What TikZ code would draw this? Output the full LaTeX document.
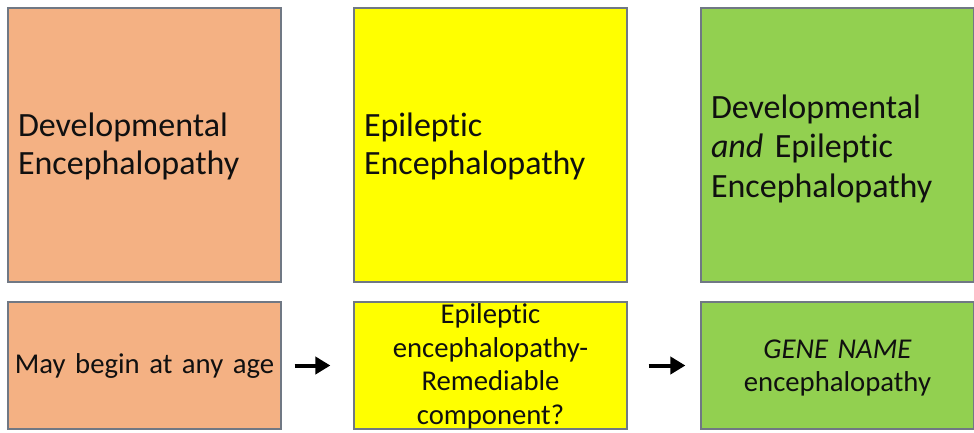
\documentclass[tikz,border=0pt]{standalone}
\usepackage{fontspec}
\setmainfont{Carlito}[Ligatures=NoCommon]
\usetikzlibrary{arrows.meta}
\definecolor{orangebox}{HTML}{F4B183}
\definecolor{yellowbox}{HTML}{FFFF00}
\definecolor{greenbox}{HTML}{92D050}
\definecolor{edgegray}{HTML}{707884}
\definecolor{txt}{HTML}{101010}
\tikzset{
  bigbox/.style={draw=edgegray, line width=1.2pt, minimum width=273pt, minimum height=274pt},
  smallbox/.style={draw=edgegray, line width=1.2pt, minimum width=273pt, minimum height=127pt},
  bigtext/.style={text width=253pt, inner sep=0pt, align=left, text=txt,
    font=\fontsize{34}{38}\selectfont},
  smalltext/.style={text width=263pt, inner sep=0pt, align=center, text=txt,
    font=\fontsize{28.7}{33.5}\selectfont},
  bigarrow/.style={line width=4pt, -{Triangle[length=15pt,width=17pt]}}
}
\begin{document}
\begin{tikzpicture}[x=1pt,y=-1pt]
\useasboundingbox (0,0) rectangle (974,432);
\node[bigbox, fill=orangebox] (dev) at (144.5,145) {};
\node[bigbox, fill=yellowbox] (epi) at (490.5,145) {};
\node[bigbox, fill=greenbox] (dee) at (837.5,145) {};
\node[smallbox, fill=orangebox] (age) at (144.5,365.5) {};
\node[smallbox, fill=yellowbox] (rem) at (490.5,365.5) {};
\node[smallbox, fill=greenbox] (gene) at (837.5,365.5) {};
\node[bigtext] (devt) at (144.5,146.5) {Developmental\\Encephalopathy};
\node[bigtext] (epit) at (490.5,146.5) {Epileptic\\Encephalopathy};
\node[bigtext, font=\fontsize{34}{39.5}\selectfont] (deet) at (837.5,148.5) {Developmental\\\textit{and} Epileptic\\Encephalopathy};
\node[smalltext] (aget) at (144.5,365.5) {May begin at any age};
\node[smalltext] (remt) at (490.5,366.5) {Epileptic\\encephalopathy-\\Remediable\\component?};
\node[smalltext] (genet) at (837.5,368) {\textit{GENE NAME}\\encephalopathy};
\draw[bigarrow, shorten <=13pt, shorten >=23pt] (age.east) -- (rem.west);
\draw[bigarrow, shorten <=21pt, shorten >=15pt] (rem.east) -- (gene.west);
\end{tikzpicture}
\end{document}
